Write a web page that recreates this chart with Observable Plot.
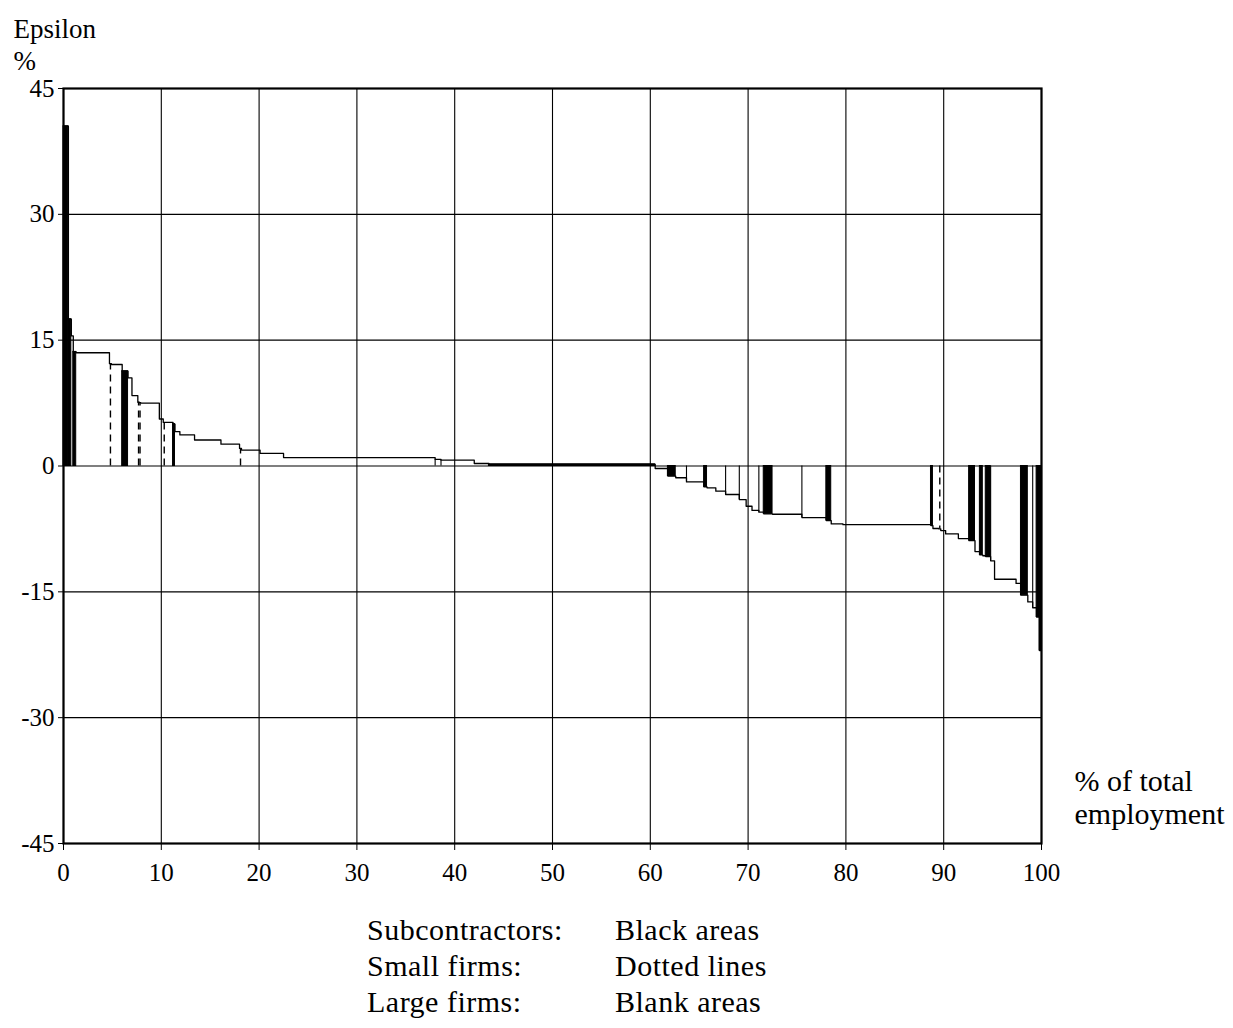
<!DOCTYPE html>
<html>
<head>
<meta charset="utf-8">
<script src="https://cdn.jsdelivr.net/npm/d3@7"></script>
<script src="https://cdn.jsdelivr.net/npm/@observablehq/plot@0.6"></script>
<style>
  html, body { margin: 0; padding: 0; background: #fff; overflow: hidden; }
  #chart { position: absolute; left: 0; top: 0; }
  #legend {
    position: absolute; left: 367px; top: 912px;
    font-family: "Liberation Serif", serif; font-size: 30px; line-height: 36px; letter-spacing: 0.5px;
    display: grid; grid-template-columns: 248px auto; color: #000;
  }
</style>
</head>
<body>
<div id="chart"></div>
<div id="legend">
  <div>Subcontractors:</div><div>Black areas</div>
  <div>Small firms:</div><div>Dotted lines</div>
  <div>Large firms:</div><div>Blank areas</div>
</div>
<script>
// Cumulative % of total employment at the right end of each firm (firms sorted by epsilon)
const shareEnd = [
  0.5, 0.8, 1.0, 1.3, 4.7, 4.9, 6.0, 6.6, 7.0, 7.6,
  7.75, 7.9, 9.8, 10.2, 10.4, 11.2, 11.4, 11.9, 13.4, 16.1,
  18.0, 18.2, 20.1, 22.5, 38.0, 38.6, 42.0, 43.5, 60.5, 61.8,
  62.6, 63.7, 65.5, 65.8, 66.7, 67.7, 69.1, 69.8, 70.4, 71.1,
  71.6, 72.5, 75.5, 78.0, 78.5, 79.7, 88.7, 88.9, 89.5, 89.7,
  90.2, 91.5, 92.6, 93.2, 93.7, 94.0, 94.3, 94.8, 95.2, 97.4,
  97.9, 98.6, 99.1, 99.5, 99.8, 100
];
// Epsilon (%) of each firm
const epsilon = [
  40.5, 17.5, 15.5, 13.6, 13.5, 12.2, 12.1, 11.3, 10.5, 8.4,
  7.6, 7.55, 7.5, 5.6, 5.2, 5.2, 5.0, 4.1, 3.7, 3.1,
  2.6, 2.1, 1.9, 1.5, 1.0, 0.8, 0.7, 0.3, 0.2, -0.3,
  -1.2, -1.4, -1.9, -2.5, -2.6, -3.0, -3.4, -4.0, -4.8, -5.3,
  -5.5, -5.7, -5.75, -6.15, -6.5, -6.9, -7.0, -7.1, -7.45, -7.5,
  -7.7, -8.1, -8.65, -8.9, -10.2, -10.6, -10.7, -10.8, -11.3, -13.5,
  -14.0, -15.4, -16.2, -16.9, -18.0, -22.0
];
// Firm type: S = subcontractor, s = small firm, L = large firm
const kind = [
  "S","S","L","S","L","s","L","S","L","L",
  "s","s","L","L","s","L","S","L","L","L",
  "L","s","L","L","L","L","L","L","S","L",
  "S","L","L","S","L","L","L","L","L","L",
  "L","S","L","L","S","L","L","S","L","s",
  "L","L","L","S","L","S","L","S","L","L",
  "L","S","L","L","S","S"
];
// 1 = a solid boundary line is drawn at the left edge of the firm
const edge = [
  0,0,0,0,0,0,0,0,0,0,
  0,0,0,0,0,0,0,0,0,0,
  0,0,0,0,0,1,1,0,0,0,
  0,0,1,0,0,0,1,1,0,0,
  1,0,0,1,0,0,0,0,0,0,
  0,0,0,0,0,0,0,0,1,0,
  0,0,0,1,0,0
];
const xTicks = [0, 10, 20, 30, 40, 50, 60, 70, 80, 90, 100];
const yTicks = [-45, -30, -15, 0, 15, 30, 45];

const firms = shareEnd.map((e, i) => ({
  start: i ? shareEnd[i - 1] : 0,
  end: e,
  eps: epsilon[i],
  kind: kind[i],
  edge: edge[i]
}));
const outline = firms.map(f => ({x: f.start, y: f.eps}))
  .concat([{x: 100, y: firms[firms.length - 1].eps}]);

const font = "Liberation Serif, serif";

const chart = Plot.plot({
  width: 1233,
  height: 900,
  marginLeft: 63,
  marginRight: 192,
  marginTop: 88,
  marginBottom: 57,
  x: {domain: [0, 100]},
  y: {domain: [-45, 45]},
  style: {fontFamily: font, fontSize: "25px", color: "#000", background: "#fff"},
  marks: [
    Plot.ruleX(xTicks, {stroke: "#000", strokeWidth: 1.1}),
    Plot.ruleY(yTicks, {stroke: "#000", strokeWidth: 1.1}),
    Plot.rect(firms.filter(f => f.kind === "S"), {
      x1: "start", x2: "end", y1: 0, y2: "eps",
      fill: "#000", stroke: "#000", strokeWidth: 1
    }),
    Plot.ruleX(firms.filter(f => f.kind === "s"), {
      x: f => (f.start + f.end) / 2, y1: 0, y2: "eps",
      stroke: "#000", strokeWidth: 1.4, strokeDasharray: "7,5"
    }),
    Plot.ruleX(firms.filter(f => f.edge), {
      x: "start", y1: 0, y2: "eps", stroke: "#000", strokeWidth: 1.1
    }),
    Plot.line(outline, {x: "x", y: "y", curve: "step-after", stroke: "#000", strokeWidth: 1.3}),
    Plot.frame({stroke: "#000", strokeWidth: 2.2}),
    Plot.axisX({ticks: xTicks, tickSize: 7, tickPadding: 13, label: null, tickFormat: d => String(d)}),
    Plot.axisY({ticks: yTicks, tickSize: 5, tickPadding: 4, label: null, tickFormat: d => String(d)}),
    Plot.text(["Epsilon\n%"], {
      frameAnchor: "top-left", dx: -50, dy: -74, textAnchor: "start", lineAnchor: "top",
      fontSize: 27, lineHeight: 1.2
    }),
    Plot.text(["% of total\nemployment"], {
      frameAnchor: "bottom-right", dx: 33, dy: -20, textAnchor: "start", lineAnchor: "bottom",
      fontSize: 30, lineHeight: 1.1
    })
  ]
});
document.getElementById("chart").appendChild(chart);
</script>
</body>
</html>
